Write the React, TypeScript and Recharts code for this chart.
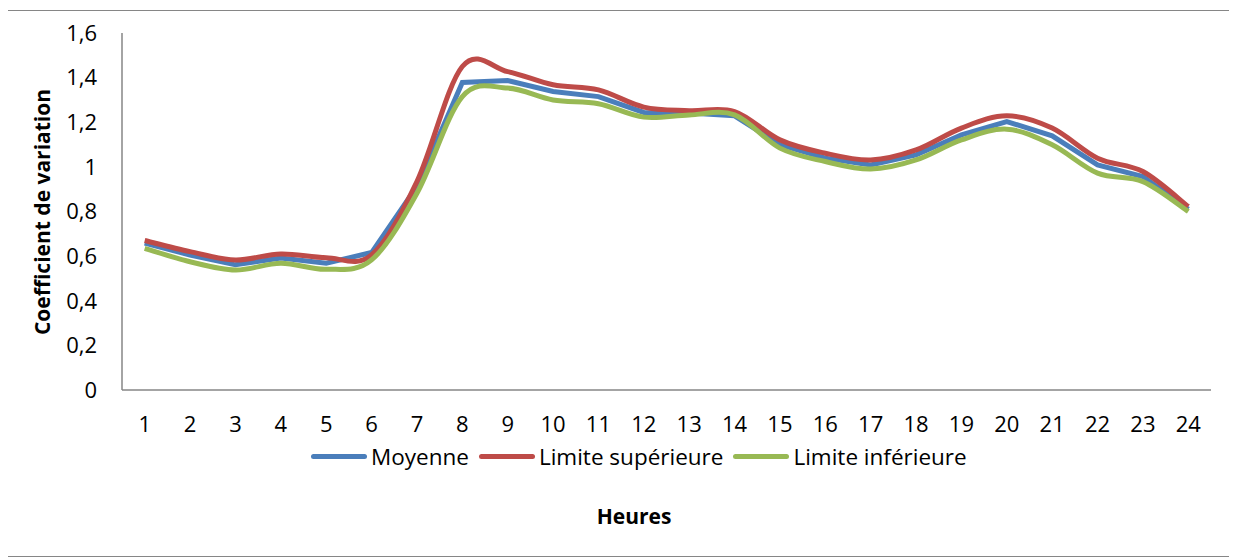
import { Line, LineChart, XAxis, YAxis } from "recharts";

const hours = ["1", "2", "3", "4", "5", "6", "7", "8", "9", "10", "11", "12", "13", "14", "15", "16", "17", "18", "19", "20", "21", "22", "23", "24"];
const moyenne = [0.659, 0.605, 0.561, 0.591, 0.568, 0.616, 0.912, 1.378, 1.387, 1.338, 1.315, 1.244, 1.241, 1.229, 1.099, 1.039, 1.009, 1.054, 1.143, 1.203, 1.139, 1.009, 0.957, 0.81];
const limiteSup = [0.67, 0.62, 0.583, 0.61, 0.593, 0.605, 0.934, 1.45, 1.427, 1.368, 1.345, 1.268, 1.252, 1.248, 1.121, 1.061, 1.031, 1.076, 1.174, 1.229, 1.174, 1.039, 0.979, 0.822];
const limiteInf = [0.635, 0.575, 0.538, 0.568, 0.541, 0.583, 0.882, 1.315, 1.353, 1.3, 1.283, 1.223, 1.233, 1.233, 1.084, 1.024, 0.99, 1.031, 1.121, 1.169, 1.099, 0.972, 0.934, 0.8];
const yTicks = [0, 0.2, 0.4, 0.6, 0.8, 1, 1.2, 1.4, 1.6];

const series = [
  { key: "moyenne", name: "Moyenne", color: "#4A7EBB" },
  { key: "sup", name: "Limite supérieure", color: "#BE4B48" },
  { key: "inf", name: "Limite inférieure", color: "#98B954" },
];

const data = hours.map((h, i) => ({ h, moyenne: moyenne[i], sup: limiteSup[i], inf: limiteInf[i] }));

const FONT = "'Open Sans', sans-serif";

// Excel style smoothed line (catmull-rom as bezier)
const smooth = (context: any) => {
  let pts: number[][] = [];
  return {
    areaStart() {},
    areaEnd() {},
    lineStart() {
      pts = [];
    },
    point(x: number, y: number) {
      pts.push([+x, +y]);
    },
    lineEnd() {
      const n = pts.length;
      if (!n) return;
      context.moveTo(pts[0][0], pts[0][1]);
      for (let i = 0; i < n - 1; i++) {
        const p0 = pts[Math.max(i - 1, 0)];
        const p1 = pts[i];
        const p2 = pts[i + 1];
        const p3 = pts[Math.min(i + 2, n - 1)];
        context.bezierCurveTo(
          p1[0] + (p2[0] - p0[0]) / 6,
          p1[1] + (p2[1] - p0[1]) / 6,
          p2[0] - (p3[0] - p1[0]) / 6,
          p2[1] - (p3[1] - p1[1]) / 6,
          p2[0],
          p2[1]
        );
      }
    },
  };
};

export default function App() {
  return (
    <div
      style={{
        position: "relative",
        margin: "2px 0 0 -1px",
        width: 1229,
        height: 547,
        border: "1px solid #868686",
        boxSizing: "border-box",
        background: "#fff",
      }}
    >
      <LineChart width={1227} height={545} data={data} margin={{ top: 22, right: 24, left: 0, bottom: 0 }}>
        <XAxis
          dataKey="h"
          height={166}
          padding={{ left: 22.7, right: 22.7 }}
          stroke="#868686"
          strokeWidth={1.5}
          tickLine={false}
          tickSize={0}
          tickMargin={26}
          tick={{ fill: "#000", fontSize: 22, fontFamily: FONT }}
          interval={0}
        />
        <YAxis
          width={114}
          domain={[0, 1.6]}
          ticks={yTicks}
          stroke="#868686"
          strokeWidth={1.5}
          tickLine={false}
          tickSize={0}
          tickMargin={25}
          tick={{ fill: "#000", fontSize: 22, fontFamily: FONT }}
          tickFormatter={(v: number) => String(v).replace(".", ",")}
        />
        <Line type="linear" dataKey="moyenne" name="Moyenne" stroke="#4A7EBB" strokeWidth={5} dot={false} isAnimationActive={false} />
        <Line type={smooth as any} dataKey="sup" name="Limite supérieure" stroke="#BE4B48" strokeWidth={5} dot={false} isAnimationActive={false} />
        <Line type={smooth as any} dataKey="inf" name="Limite inférieure" stroke="#98B954" strokeWidth={5} dot={false} isAnimationActive={false} />
      </LineChart>
      <div
        style={{
          position: "absolute",
          top: 430,
          left: 303,
          display: "flex",
          alignItems: "center",
          fontFamily: FONT,
          fontSize: 22.5,
          color: "#000",
        }}
      >
        {series.map((s) => (
          <div key={s.key} style={{ display: "flex", alignItems: "center", marginRight: 10 }}>
            <span style={{ display: "inline-block", width: 56, height: 5, borderRadius: 3, background: s.color, marginRight: 4 }} />
            <span>{s.name}</span>
          </div>
        ))}
      </div>
      <div
        style={{
          position: "absolute",
          left: 34,
          top: 201,
          transform: "translate(-50%, -50%) rotate(-90deg)",
          whiteSpace: "nowrap",
          fontFamily: FONT,
          fontWeight: 700,
          fontSize: 21,
        }}
      >
        Coefficient de variation
      </div>
      <div
        style={{
          position: "absolute",
          left: 626,
          top: 505,
          transform: "translate(-50%, -50%)",
          whiteSpace: "nowrap",
          fontFamily: FONT,
          fontWeight: 700,
          fontSize: 21,
        }}
      >
        Heures
      </div>
    </div>
  );
}
